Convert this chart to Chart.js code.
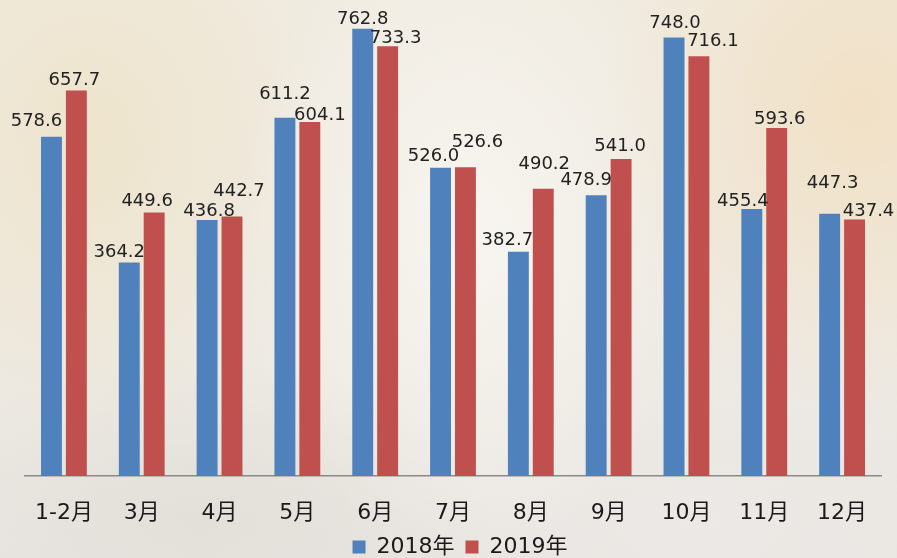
<!DOCTYPE html>
<html>
<head>
<meta charset="utf-8">
<script src="https://cdn.jsdelivr.net/npm/chart.js@4.4.1/dist/chart.umd.min.js"></script>
<style>
  html, body { margin: 0; padding: 0; }
  body {
    width: 897px; height: 558px; overflow: hidden;
    background:
      radial-gradient(ellipse 230px 330px at 470px 230px, rgba(248,246,241,0.9), rgba(248,246,241,0) 100%),
      radial-gradient(ellipse 260px 300px at 860px 110px, rgba(241,224,196,0.95), rgba(241,224,196,0) 100%),
      radial-gradient(ellipse 240px 300px at 90px 140px, rgba(238,228,203,0.95), rgba(238,228,203,0) 100%),
      radial-gradient(ellipse 300px 160px at 200px 520px, rgba(226,222,216,0.9), rgba(226,222,216,0) 100%),
      radial-gradient(ellipse 300px 160px at 700px 520px, rgba(236,233,230,0.9), rgba(236,233,230,0) 100%),
      linear-gradient(180deg, #f0ebe0 0%, #eeeae3 60%, #e9e6e2 100%);
  }
  #wrap { position: absolute; left: 0; top: 0; width: 897px; height: 558px; }
</style>
</head>
<body>
<div id="wrap"><canvas id="c" width="897" height="558"></canvas></div>
<script>
// ---- data ----
const categories = ["1-2月", "3月", "4月", "5月", "6月", "7月", "8月", "9月", "10月", "11月", "12月"];
const seriesNames = ["2018年", "2019年"];
const values2018 = [578.6, 364.2, 436.8, 611.2, 762.8, 526.0, 382.7, 478.9, 748.0, 455.4, 447.3];
const values2019 = [657.7, 449.6, 442.7, 604.1, 733.3, 526.6, 490.2, 541.0, 716.1, 593.6, 437.4];

// ---- label placement nudges (px, relative to bar top centre) ----
const labelNudge2018 = [[-15,-16],[-10,-10],[2,-9],[0,-23],[0,-10],[-7,-11],[-11,-11],[-10,-15],[1,-14],[-9,-8],[3,-30]];
const labelNudge2019 = [[-2,-10],[-7,-11],[7,-25],[10,-7],[8,-8],[12,-25],[1,-24],[-1,-13],[14,-15],[3,-9],[14,-8]];

const FONT = "'DejaVu Sans', 'Noto Sans CJK SC', sans-serif";

const valueLabels = {
  id: 'valueLabels',
  afterDatasetsDraw(chart) {
    const ctx = chart.ctx;
    const nudges = [labelNudge2018, labelNudge2019];
    ctx.save();
    ctx.font = "18px " + FONT;
    ctx.fillStyle = "#222222";
    ctx.textAlign = "center";
    ctx.textBaseline = "middle";
    chart.data.datasets.forEach((ds, di) => {
      const meta = chart.getDatasetMeta(di);
      meta.data.forEach((bar, i) => {
        const n = nudges[di][i];
        ctx.fillText(ds.data[i].toFixed(1), bar.x + n[0], bar.y + n[1]);
      });
    });
    ctx.restore();
  }
};

// fix legend box height and nudge it slightly
const legendTweak = {
  id: 'legendTweak',
  beforeInit(chart) {
    const lg = chart.legend;
    if (lg && !lg._patched) {
      const origFit = lg.fit;
      lg.fit = function () { origFit.call(this); this.height = 35; };
      const origDraw = lg.draw;
      lg.draw = function () {
        const ctx = this.ctx;
        ctx.save();
        ctx.translate(7, 2);
        origDraw.call(this);
        ctx.restore();
      };
      lg._patched = true;
    }
  }
};

Chart.defaults.font.family = FONT;

new Chart(document.getElementById('c'), {
  type: 'bar',
  data: {
    labels: categories,
    datasets: [
      { label: seriesNames[0], data: values2018, backgroundColor: '#4f81bd' },
      { label: seriesNames[1], data: values2019, backgroundColor: '#c0504d' }
    ]
  },
  options: {
    responsive: false,
    animation: false,
    devicePixelRatio: 1,
    layout: { padding: { left: 25, right: 16, top: 10, bottom: 0 } },
    datasets: { bar: { categoryPercentage: 0.64, barPercentage: 0.84 } },
    scales: {
      x: {
        grid: { display: false, drawTicks: false },
        border: { display: true, color: '#8a8a8a', width: 1.5 },
        ticks: { color: '#1a1a1a', font: { size: 22 }, padding: 24 },
        afterFit(scale) { scale.height = 47; }
      },
      y: {
        display: false,
        min: 0,
        max: 795
      }
    },
    plugins: {
      legend: {
        position: 'bottom',
        labels: {
          color: '#1a1a1a',
          font: { size: 22 },
          boxWidth: 13,
          boxHeight: 13,
          padding: 11
        }
      },
      tooltip: { enabled: false }
    }
  },
  plugins: [legendTweak, valueLabels]
});
</script>
</body>
</html>
